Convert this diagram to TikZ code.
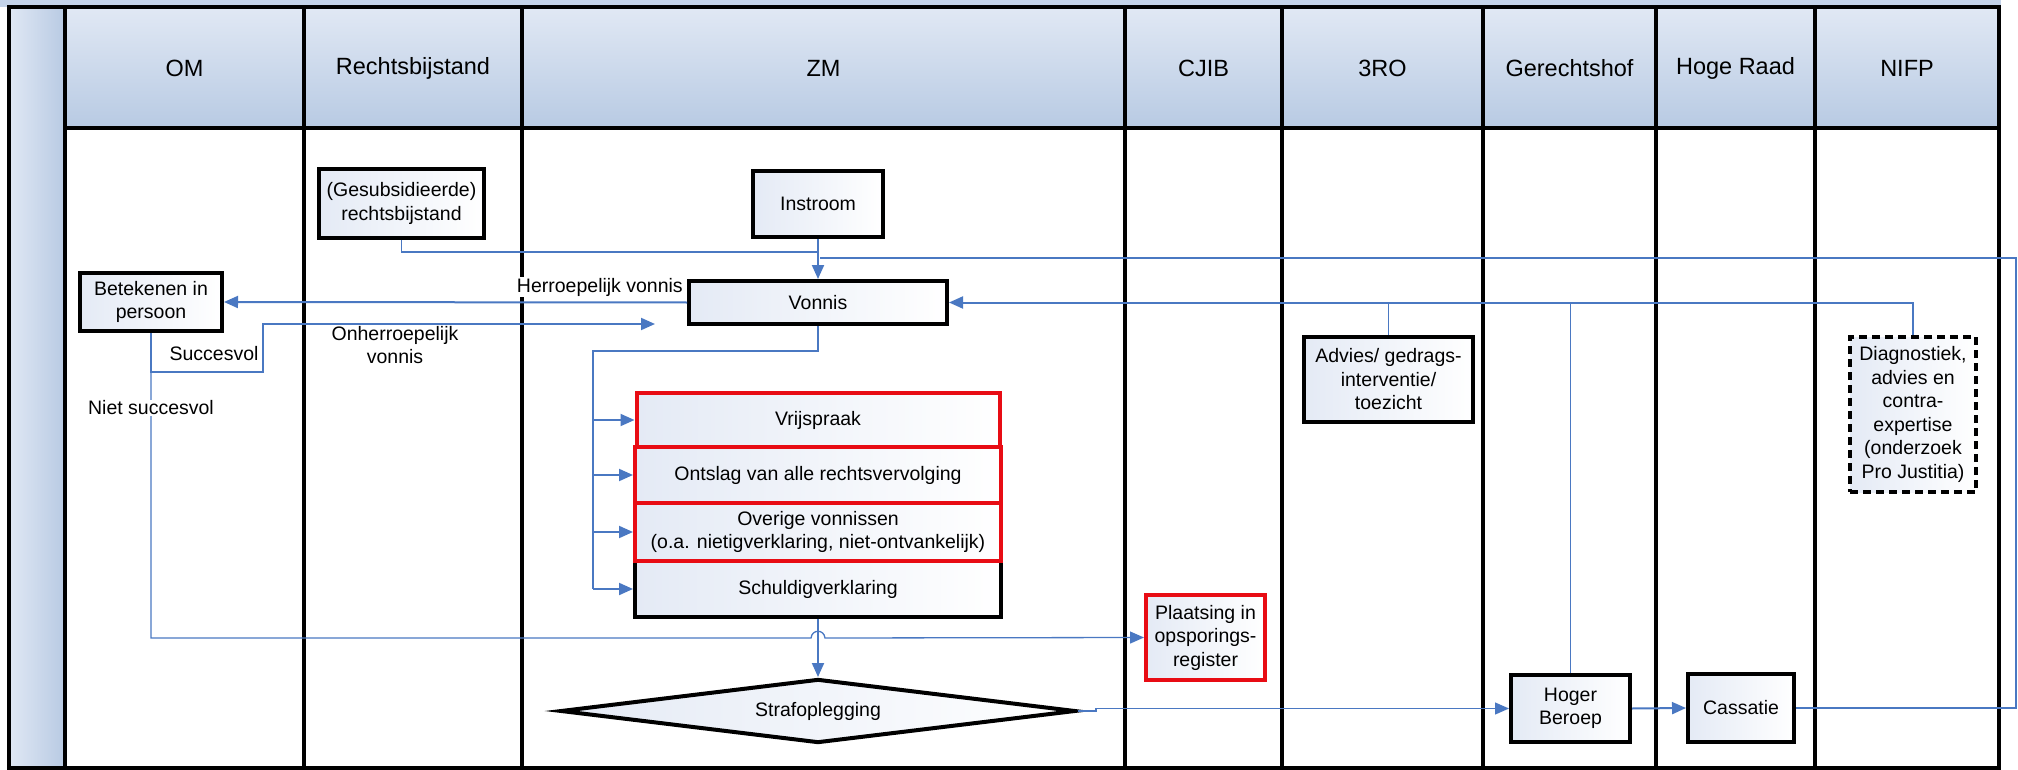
\documentclass[tikz,border=0pt]{standalone}
\usepackage{fontspec}
\setmainfont{Liberation Sans}
\usetikzlibrary{arrows.meta,shapes.geometric}
\definecolor{conncol}{RGB}{74,120,194}
\definecolor{hdrtop}{RGB}{224,232,244}
\definecolor{hdrbot}{RGB}{184,202,227}
\definecolor{boxl}{RGB}{228,234,245}
\definecolor{redb}{RGB}{232,12,20}
\definecolor{strip}{RGB}{196,211,233}
\newcommand\bodyfont{\fontsize{19.5}{23.5}\selectfont}
\begin{document}
\begin{tikzpicture}[x=1pt,y=-1pt,
  laneline/.style={draw=black,line width=3.6pt},
  lanehdr/.style={draw=none,top color=hdrtop,bottom color=hdrbot,inner sep=0pt,minimum height=119pt,font=\fontsize{23.5}{28}\selectfont},
  box/.style={draw=black,line width=4pt,left color=boxl,right color=white,align=center,inner sep=2pt,font=\bodyfont},
  redbox/.style={box,draw=redb},
  dashbox/.style={box,line width=3.5pt,dash pattern=on 8pt off 5pt},
  conn/.style={draw=conncol,line width=2pt},
  thinconn/.style={draw=conncol,line width=1.3pt},
  arr/.style={conn,-{Triangle[length=14pt,width=12pt]}},
  thinarr/.style={thinconn,-{Triangle[length=14pt,width=12pt]}},
  lbl/.style={fill=white,inner sep=1pt,align=center,font=\bodyfont}
]
\useasboundingbox (0,0) rectangle (2018,770);
% top band and left strip
\fill[strip] (0,0) rectangle (2001,7);
\shade[left color=hdrtop,right color=hdrbot] (9,7) rectangle (65,768);
% lane headers
\node[lanehdr,minimum width=239pt] (hom) at (184.5,68.5) {OM};
\node[lanehdr,minimum width=218pt] (hrb) at (413,68.5) {Rechtsbijstand};
\node[lanehdr,minimum width=603pt] (hzm) at (823.5,68.5) {ZM};
\node[lanehdr,minimum width=157pt] (hcj) at (1203.5,68.5) {CJIB};
\node[lanehdr,minimum width=201pt] (hro) at (1382.5,68.5) {3RO};
\node[lanehdr,minimum width=173pt] (hgh) at (1569.5,68.5) {Gerechtshof};
\node[lanehdr,minimum width=159pt] (hhr) at (1735.5,68.5) {Hoge Raad};
\node[lanehdr,minimum width=184pt] (hnf) at (1907,68.5) {NIFP};
% lane lines
\foreach \x in {65,304,522,1125,1282,1483,1656,1815}
  \draw[laneline] (\x,7) -- (\x,768);
\draw[laneline] (65,128) -- (1999,128);
\draw[laneline] (9,7) rectangle (1999,768);

% nodes
\node[box,minimum width=165pt,minimum height=69pt] (gesub) at (401.5,203.5) {(Gesubsidieerde)\\rechtsbijstand};
\node[box,minimum width=130pt,minimum height=66pt] (instroom) at (818,204) {Instroom};
\node[box,minimum width=258pt,minimum height=43pt] (vonnis) at (818,302.5) {Vonnis};
\node[box,minimum width=142pt,minimum height=58pt] (betek) at (151,302) {Betekenen in\\persoon};
\node[box,minimum width=366pt,minimum height=56pt] (schuld) at (818,589) {Schuldigverklaring};
\node[redbox,minimum width=366pt,minimum height=58pt] (overige) at (818,532) {Overige vonnissen\\(o.a. nietigverklaring, niet-ontvankelijk)};
\node[redbox,minimum width=366pt,minimum height=56pt] (ontslag) at (818,475) {Ontslag van alle rechtsvervolging};
\node[redbox,minimum width=363pt,minimum height=54pt] (vrij) at (818,420) {Vrijspraak};
\node[redbox,minimum width=119pt,minimum height=85pt] (plaats) at (1205.5,637.5) {Plaatsing in\\opsporings-\\register};
\node[box,diamond,aspect=8,inner sep=0pt,minimum width=515pt,minimum height=64pt] (straf) at (818,711) {Strafoplegging};
\node[box,minimum width=169pt,minimum height=85pt] (advies) at (1388.5,379.5) {Advies/ gedrags-\\interventie/\\toezicht};
\node[dashbox,minimum width=126pt,minimum height=155pt] (diag) at (1913,414.5) {Diagnostiek,\\advies en\\contra-\\expertise\\(onderzoek\\Pro Justitia)};
\node[box,minimum width=119pt,minimum height=67pt] (hoger) at (1570.5,708.5) {Hoger\\Beroep};
\node[box,minimum width=106pt,minimum height=68pt] (cass) at (1741,708) {Cassatie};

% coordinates
\coordinate (gj) at (818,252);
\coordinate (fbA) at (2016,708);
\coordinate (fbB) at (2016,258);
\coordinate (fbC) at (820,258);
\coordinate (bj) at (151,372);
\coordinate (sj) at (263,324);
\coordinate (onh) at (655,324);
\coordinate (hopL) at (811,638);
\coordinate (hopR) at (825,638);
\coordinate (split) at (593,351);
\coordinate (stp) at (1096,711);

% connectors
\draw[thinconn,line width=1.6pt] (gesub.south) |- (gj);
\draw[arr] (instroom.south) -- (vonnis.north);
\draw[thinconn] (cass.east) -- (fbA) -- (fbB) -- (fbC);
\draw[arr] (vonnis.west) -- (betek.east);
\draw[arr] (betek.south) -- (bj) -| (sj) -- (onh);
\draw[thinarr] (bj) |- (hopL) .. controls (812,629) and (824,629) .. (hopR) -- (plaats.west);
\draw[conn] (vonnis.south) |- (split) -- (split |- schuld.west);
\foreach \n in {vrij,ontslag,overige,schuld}
  \draw[arr] (split |- \n.west) -- (\n.west);
\draw[arr] (schuld.south) -- (straf.north);
\draw[thinarr] (straf.east) -- (stp) -- (stp |- hoger.west) -- (hoger.west);
\draw[arr] (hoger.east) -- (cass.west);
\draw[thinconn] (hoger.north) -- (hoger.north |- vonnis.east);
\draw[thinconn] (advies.north) -- (advies.north |- vonnis.east);
\draw[arr] (diag.north) |- (vonnis.east);

% labels
\node[lbl,anchor=east] (lherr) at (684,287) {Herroepelijk vonnis};
\node[lbl] (lsucc) at (214,354) {Succesvol};
\node[lbl] (lonh) at (395,345) {Onherroepelijk\\vonnis};
\node[lbl] (lniet) at (151,408) {Niet succesvol};
\end{tikzpicture}
\end{document}
